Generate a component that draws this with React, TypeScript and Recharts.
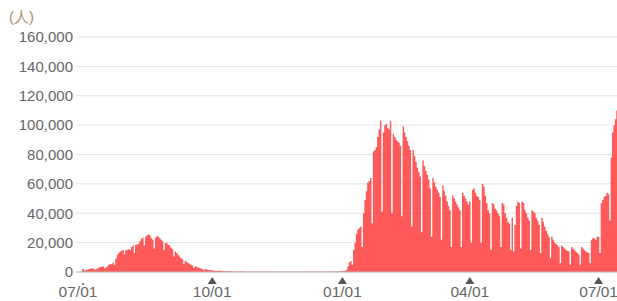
import { AreaChart, Area, XAxis, YAxis, CartesianGrid } from 'recharts';

// daily new cases, 2021-07-01 .. 2022-07-14
const jul21 = [1700, 1800, 1100, 1400, 1600, 2100, 2200, 2300, 2400, 1500, 2000, 2400, 3100, 3400, 3500, 3800, 2400, 3000, 3700, 4900, 5400, 5200, 6500, 4800, 9000, 11500, 13000, 14000, 14500, 15000, 12000];
const aug21 = [14800, 15200, 15500, 15000, 17000, 18000, 13000, 18500, 18800, 19000, 21000, 22500, 23500, 18000, 24000, 25000, 25500, 25000, 23000, 22000, 16000, 23500, 24500, 24000, 23000, 22000, 21000, 15000, 20000, 19500, 18500];
const sep21 = [18000, 16500, 15500, 10500, 14000, 13000, 11500, 10500, 9500, 8500, 5500, 7500, 7000, 6200, 5600, 5000, 4500, 2800, 4000, 3600, 3200, 2700, 2400, 2100, 1300, 1900, 1700, 1500, 1400, 1300];
const oct21 = [1200, 1100, 900, 600, 1000, 900, 800, 700, 650, 600, 400, 550, 600, 500, 450, 420, 380, 250, 350, 380, 330, 300, 270, 250, 160, 230, 270, 260, 240, 230, 200];
const nov21 = [120, 200, 170, 190, 180, 170, 160, 110, 170, 200, 180, 210, 190, 160, 90, 140, 170, 150, 130, 130, 120, 60, 90, 120, 120, 110, 150, 120, 80, 100];
const dec21 = [120, 110, 120, 130, 100, 90, 140, 140, 170, 160, 130, 120, 90, 180, 190, 170, 180, 170, 140, 120, 260, 250, 280, 280, 310, 260, 200, 380, 500, 420, 520];
const jan22 = [500, 600, 800, 1500, 4000, 6500, 7500, 5000, 15000, 20000, 26000, 29000, 30000, 31000, 17000, 40000, 49000, 55000, 61000, 62000, 64000, 33000, 82000, 83000, 85000, 92000, 97000, 103000, 41000, 95000, 100000];
const feb22 = [101000, 98000, 97000, 103000, 40000, 94000, 92000, 90000, 89000, 88000, 86000, 38000, 99000, 95000, 92000, 89000, 86000, 83000, 31000, 83000, 79000, 75000, 71000, 68000, 65000, 27000, 76000, 72000];
const mar22 = [69000, 66000, 63000, 57000, 24000, 64000, 61000, 58000, 56000, 54000, 51000, 22000, 59000, 55000, 52000, 48000, 45000, 42000, 17000, 52000, 50000, 48000, 46000, 44000, 42000, 17000, 54000, 52000, 50000, 48000, 46000];
const apr22 = [48000, 20000, 56000, 57000, 54000, 52000, 51000, 49000, 20000, 60000, 58000, 52000, 47000, 42000, 40000, 15000, 47000, 46000, 43000, 42000, 40000, 38000, 17000, 47000, 46000, 40000, 37000, 34000, 33000, 15000];
const may22 = [37000, 14000, 32000, 45000, 48000, 47000, 16000, 48000, 47000, 42000, 40000, 37000, 35000, 15000, 42000, 41000, 40000, 37000, 35000, 32000, 13000, 37000, 34000, 31000, 28000, 26000, 24000, 9500, 24000, 22000, 20000];
const jun22 = [19000, 18000, 17000, 6000, 18000, 17000, 16000, 15000, 14500, 14000, 5000, 17000, 16000, 15000, 14000, 13000, 12000, 5000, 17000, 16000, 15000, 14000, 13500, 13000, 6000, 22000, 23000, 23000, 22000, 24000];
const jul22 = [24000, 13000, 47000, 49000, 51000, 52000, 54000, 53000, 35000, 78000, 95000, 100000, 104000, 110000];

const yTicks = [0, 20000, 40000, 60000, 80000, 100000, 120000, 140000, 160000];
const xTickDays = [0, 92, 184, 274, 365];
const xTickLabels = ['07/01', '10/01', '01/01', '04/01', '07/01'];

const cases = [...jul21, ...aug21, ...sep21, ...oct21, ...nov21, ...dec21, ...jan22, ...feb22, ...mar22, ...apr22, ...may22, ...jun22, ...jul22];
const data = cases.map((v, i) => ({ d: i, v }));

const fmtY = (n: number) => n.toLocaleString('en-US');

function DateTick(props: any) {
  const { x, y, payload } = props;
  const idx = xTickDays.indexOf(payload.value);
  const first = idx === 0;
  return (
    <g>
      {first
        ? <circle cx={x + 1} cy={y + 12} r={1} fill="#555" />
        : <path d={`M${x},${y + 5} L${x + 4.5},${y + 12} L${x - 4.5},${y + 12} Z`} fill="#555" />}
      <text x={first ? x - 4 : x} y={y + 25} textAnchor="middle" fill="#666" fontSize={15.5}>
        {xTickLabels[idx]}
      </text>
    </g>
  );
}

export default function App() {
  return (
    <div style={{ position: 'absolute', left: 0, top: 0, width: 617, height: 301, background: '#fff', fontFamily: '"Liberation Sans", Arial, sans-serif' }}>
      <div style={{ position: 'absolute', left: 9, top: 8, fontSize: 15, color: '#a8906c' }}>(人)</div>
      <AreaChart width={617} height={301} data={data} margin={{ top: 37, right: 0, left: 0, bottom: 0 }}>
        <CartesianGrid vertical={false} stroke="#e3e3e3" />
        <XAxis
          dataKey="d"
          type="category"
          ticks={xTickDays}
          interval={0}
          height={29}
          padding={{ left: 6, right: 0 }}
          tickSize={0}
          tickMargin={0}
          axisLine={{ stroke: '#bbb' }}
          tick={<DateTick />}
        />
        <YAxis
          width={76}
          domain={[0, 160000]}
          ticks={yTicks}
          tickFormatter={fmtY}
          tickSize={0}
          tickMargin={3}
          axisLine={false}
          tickLine={false}
          tick={{ fill: '#666', fontSize: 15 }}
        />
        <Area
          type="step"
          dataKey="v"
          stroke="none"
          fill="#ff4040"
          fillOpacity={0.87}
          isAnimationActive={false}
        />
      </AreaChart>
    </div>
  );
}
